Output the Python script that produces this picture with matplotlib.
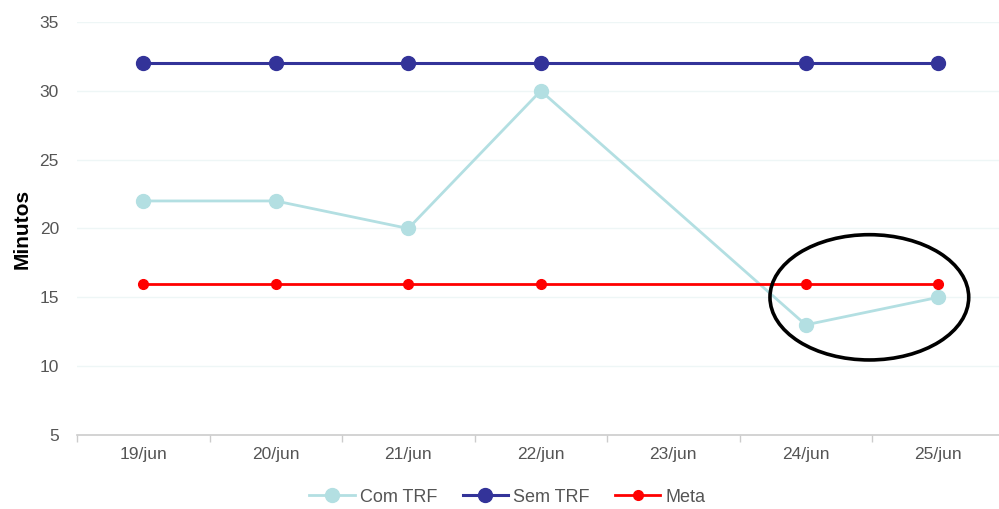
import numpy as np
import matplotlib.pyplot as plt
from matplotlib.patches import Ellipse

dias = ['19/jun', '20/jun', '21/jun', '22/jun', '23/jun', '24/jun', '25/jun']
com_trf = [22, 22, 20, 30, None, 13, 15]
sem_trf = [32, 32, 32, 32, None, 32, 32]
meta = [16, 16, 16, 16, None, 16, 16]

plt.rcParams['font.family'] = ['Liberation Sans', 'DejaVu Sans']

fig = plt.figure(figsize=(9.99, 5.09), dpi=100)
ax = fig.add_axes([0.0771, 0.1454, 0.9284, 0.8114])


def pontos(valores):
    # days without data are skipped, the line joins the neighbours
    xs = [i for i, v in enumerate(valores) if v is not None]
    ys = [v for v in valores if v is not None]
    return xs, ys


x, y = pontos(com_trf)
ax.plot(x, y, color='#b3dfe2', lw=2.0, marker='o', ms=10, label='Com TRF', zorder=3)
x, y = pontos(sem_trf)
ax.plot(x, y, color='#333399', lw=2.2, marker='o', ms=10, label='Sem TRF', zorder=4)
x, y = pontos(meta)
ax.plot(x, y, color='#ff0000', lw=2.0, marker='o', ms=7, label='Meta', zorder=5)

# highlight around the last two days
ax.add_patch(Ellipse((5.48, 15.0), 1.50, 9.1, fill=False, ec='black', lw=2.6,
                     zorder=6, clip_on=False))

ax.set_xlim(-0.5, 6.5)
ax.set_ylim(5, 35)
ax.set_yticks(range(5, 36, 5))
ax.set_xticks(range(len(dias)))
ax.set_xticklabels(dias)
ax.set_xticks(np.arange(-0.5, 7, 1), minor=True)

for y in range(10, 36, 5):
    ax.axhline(y, color='#eef6f6', lw=1.0, zorder=0)

for s in ['top', 'right', 'left']:
    ax.spines[s].set_visible(False)
ax.spines['bottom'].set_color('#cccccc')
ax.spines['bottom'].set_linewidth(1.2)

ax.tick_params(axis='y', length=0, pad=13, labelsize=12.5, labelcolor='#555555')
ax.tick_params(axis='x', which='major', length=0, pad=9, labelsize=12.5, labelcolor='#555555')
ax.tick_params(axis='x', which='minor', length=5, color='#cccccc', width=1.0)

ax.set_ylabel('Minutos', fontsize=15, fontweight='bold', color='black', labelpad=6)

leg = fig.legend(loc='center', bbox_to_anchor=(0.508, 0.023), ncol=3, frameon=False,
                 fontsize=13, handlelength=2.5, columnspacing=1.4, handletextpad=0.3)
for t in leg.get_texts():
    t.set_color('#555555')

fig.savefig('out.png', dpi=100)
